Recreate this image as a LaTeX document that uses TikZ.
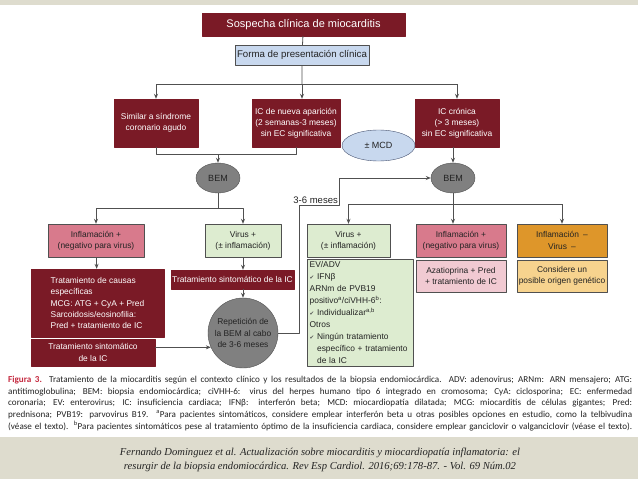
\documentclass[tikz,border=0pt]{standalone}
\usepackage{fontspec}
\setmainfont{Liberation Sans}
\newfontfamily\capfont{Carlito}
\newfontfamily\citefont{Liberation Serif}
\newfontfamily\symfont{DejaVu Sans}
\usetikzlibrary{shapes.geometric,arrows.meta}
\definecolor{granate}{RGB}{122,26,38}
\definecolor{azulclaro}{RGB}{200,216,238}
\definecolor{azulborde}{RGB}{70,82,112}
\definecolor{grisbem}{RGB}{128,128,128}
\definecolor{rosa}{RGB}{216,122,140}
\definecolor{rosaclaro}{RGB}{241,202,210}
\definecolor{verdeclaro}{RGB}{221,236,208}
\definecolor{naranja}{RGB}{222,150,42}
\definecolor{naranjaclara}{RGB}{247,211,142}
\definecolor{banda}{RGB}{222,220,206}
\definecolor{linea}{RGB}{80,80,80}
\definecolor{rojofig}{RGB}{196,40,62}
\definecolor{texto}{RGB}{35,35,35}
\newcommand{\ck}{{\symfont\fontsize{5.5}{6}\selectfont\color{linea}✔}}

\begin{document}
\begin{tikzpicture}[x=1pt, y=-1pt, line join=round, >={Stealth[length=5pt,width=4pt]},
	font=\fontsize{8.4}{11.2}\selectfont,
	caja/.style={rectangle, inner sep=1pt, align=center, draw=linea, text=texto},
	cajaroja/.style={caja, draw=granate, fill=granate, text=white},
	cajaazul/.style={caja, fill=azulclaro},
	cajarosa/.style={caja, fill=rosa},
	cajarosaclara/.style={caja, fill=rosaclaro},
	cajaverde/.style={caja, fill=verdeclaro},
	cajanaranja/.style={caja, fill=naranja},
	cajanaranjaclara/.style={caja, fill=naranjaclara},
	bem/.style={ellipse, inner sep=0pt, fill=grisbem, draw=linea, text=texto, minimum width=44, minimum height=30, font=\fontsize{9}{11}\selectfont},
	conector/.style={draw=linea, line width=0.8pt}]
	\useasboundingbox (0,0) rectangle (638,479);
	\fill[banda] (0,0) rectangle (638,5);
	\fill[banda] (0,437) rectangle (638,479);
	
	% nivel superior
	\node[cajaroja, minimum width=203, minimum height=23, font=\fontsize{11}{13}\selectfont] (sospecha) at (303.5,24.5) {Sospecha clínica de miocarditis};
	\node[cajaazul, minimum width=134, minimum height=20, font=\fontsize{9.7}{11}\selectfont] (forma) at (302,55) {Forma de presentación clínica};
	\node[cajaroja, minimum width=84, minimum height=48] (sca) at (156,123) {Similar a síndrome\\coronario agudo};
	\node[cajaroja, minimum width=88, minimum height=48] (icnueva) at (296,123) {IC de nueva aparición\\(2 semanas-3 meses)\\sin EC significativa};
	\node[cajaroja, minimum width=84, minimum height=48] (iccronica) at (457,123) {IC crónica\\(> 3 meses)\\sin EC significativa};
	\node[ellipse, inner sep=0pt, fill=azulclaro, draw=azulborde, text=texto, minimum width=73, minimum height=31, font=\fontsize{9}{11}\selectfont] (mcd) at (378.5,145.5) {± MCD};
	\node[bem] (bemA) at (218,178) {BEM};
	\node[bem] (bemB) at (453,178) {BEM};
	
	% rama izquierda
	\node[cajarosa, minimum width=96, minimum height=33] (inflA) at (96,240.5) {Inflamación +\\(negativo para virus)};
	\node[cajaroja, minimum width=133, minimum height=68, align=left] (causas) at (97.5,303) {Tratamiento de causas\\específicas\\MCG: ATG + CyA + Pred\\Sarcoidosis/eosinofilia:\\Pred + tratamiento de IC};
	\node[cajaroja, minimum width=124, minimum height=27] (sintA) at (93,352.5) {Tratamiento sintomático\\de la IC};
	\node[cajaverde, minimum width=76, minimum height=33] (virusA) at (243,240.5) {Virus +\\(± inflamación)};
	\node[cajaroja, minimum width=123, minimum height=19] (sintB) at (232.5,279.5) {Tratamiento sintomático de la IC};
	\node[circle, inner sep=0pt, fill=grisbem, draw=linea, text=texto, align=center, minimum size=70] (repeticion) at (243,333) {Repetición de\\la BEM al cabo\\de 3-6 meses};
	
	% rama derecha
	\node[cajaverde, minimum width=83, minimum height=33] (virusB) at (348.5,240.5) {Virus +\\(± inflamación)};
	\node[cajaverde, anchor=north west, text width=101, inner sep=2.5pt, align=left, font=\fontsize{8.4}{12}\selectfont] (detalle) at (307,259) {EV/ADV\\
		\ck\ IFNβ\\
		ARNm de PVB19\\
		positivo\textsuperscript{a}/ciVHH-6\textsuperscript{b}:\\
		\ck\ Individualizar\textsuperscript{a,b}\\
		Otros\\
		\ck\ Ningún tratamiento\\
		\hphantom{\ck\ }específico + tratamiento\\
		\hphantom{\ck\ }de la IC};
	\node[cajarosa, minimum width=90, minimum height=33] (inflB) at (461,240.5) {Inflamación +\\(negativo para virus)};
	\node[cajarosaclara, minimum width=90, minimum height=32] (azatio) at (461,276) {Azatioprina + Pred\\+ tratamiento de IC};
	\node[cajanaranja, minimum width=90, minimum height=33] (negativo) at (562,240.5) {Inflamación\enspace–\\Virus\enspace–};
	\node[cajanaranjaclara, minimum width=90, minimum height=32] (genetico) at (562,276) {Considere un\\posible origen genético};
	
	\path
	(forma.south |- 0,84) coordinate (troncoA)
	(sca.south |- 0,154) coordinate (unionA)
	(bemA |- 0,208) coordinate (nudoA)
	(bemB |- 0,204) coordinate (nudoB)
	(299,205) coordinate (codoA)
	(339,178) coordinate (codoB);
	
	% conectores
	\draw[conector] (sospecha) -- (forma) -- (troncoA);
	\draw[conector] (sca.north |- troncoA) -- (iccronica.north |- troncoA);
	\foreach \destino in {sca, iccronica}
	\draw[conector, ->] (\destino.north |- troncoA) -- (\destino.north);
	\draw[conector, ->] (troncoA) -- (troncoA |- icnueva.north);
	\draw[conector] (sca.south) -- (unionA) -| (icnueva.south);
	\draw[conector, ->] (bemA |- unionA) -- (bemA.north);
	\draw[conector, ->] (iccronica.south -| bemB) -- (bemB.north);
	
	\draw[conector] (bemA.south) -- (nudoA);
	\foreach \destino in {inflA, virusA}
	\draw[conector, ->] (nudoA) -| (\destino.north);
	\draw[conector, ->] (inflA) -- (causas);
	\draw[conector, ->] (virusA.south) -- (virusA.south |- sintB.north);
	\draw[conector, ->] (sintB.south -| repeticion) -- (repeticion.north);
	\draw[conector, ->] (sintA.east |- repeticion.204) -- (repeticion.204);
	
	\draw[conector] (bemB.south) -- (nudoB);
	\draw[conector] (virusB.north |- nudoB) -- (negativo.north |- nudoB);
	\foreach \destino in {virusB, negativo}
	\draw[conector, ->] (\destino.north |- nudoB) -- (\destino.north);
	\draw[conector, ->] (nudoB) -- (nudoB |- inflB.north);
	
	\draw[conector, ->] (repeticion.east) -| (codoA) -| (codoB) -- (bemB.west);
	\node[anchor=south east, inner sep=1pt, text=texto, font=\fontsize{9.5}{11}\selectfont] (meses) at (codoA -| codoB) {3-6 meses};
	
	% pie de figura
	\node[anchor=north west, inner sep=0pt, text width=624, align=justify, text=texto, font=\capfont\fontsize{9.1}{11.7}\selectfont] (pie) at (8,376) {\parfillskip=0pt {\color{rojofig}\bfseries Figura 3.} Tratamiento de la miocarditis según el contexto clínico y los resultados de la biopsia endomiocárdica. ADV: adenovirus; ARNm: ARN mensajero; ATG:\linebreak
		antitimoglobulina; BEM: biopsia endomiocárdica; ciVHH-6: virus del herpes humano tipo 6 integrado en cromosoma; CyA: ciclosporina; EC: enfermedad\linebreak
		coronaria; EV: enterovirus; IC: insuficiencia cardiaca; IFNβ: interferón beta; MCD: miocardiopatía dilatada; MCG: miocarditis de células gigantes; Pred:\linebreak
		prednisona; PVB19: parvovirus B19. \textsuperscript{a}Para pacientes sintomáticos, considere emplear interferón beta u otras posibles opciones en estudio, como la telbivudina\linebreak
		(véase el texto). \textsuperscript{b}Para pacientes sintomáticos pese al tratamiento óptimo de la insuficiencia cardiaca, considere emplear ganciclovir o valganciclovir (véase el texto).\par};
	\node[align=center, inner sep=0pt, text=texto, font=\citefont\itshape\fontsize{10.6}{14}\selectfont] (cita) at (320,460) {Fernando Dominguez et al. Actualización sobre miocarditis y miocardiopatía inflamatoria: el\\resurgir de la biopsia endomiocárdica. Rev Esp Cardiol. 2016;69:178-87. - Vol. 69 Núm.02};
\end{tikzpicture}
\end{document}
